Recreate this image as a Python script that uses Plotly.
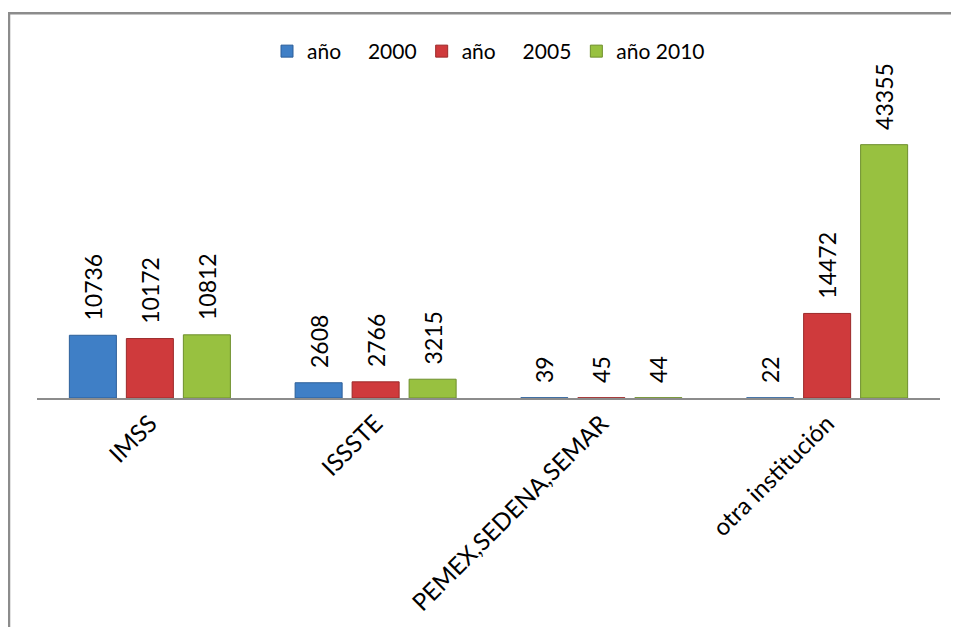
import plotly.graph_objects as go

categories = ["IMSS", "ISSSTE", "PEMEX,SEDENA,SEMAR", "otra institución"]
series_names = ["año\u00a0\u00a0\u00a0\u00a0\u00a02000",
                "año\u00a0\u00a0\u00a0\u00a0\u00a02005",
                "año 2010"]
values_2000 = [10736, 2608, 39, 22]
values_2005 = [10172, 2766, 45, 14472]
values_2010 = [10812, 3215, 44, 43355]

fill_colors = ["#3f7fc6", "#cf3a3c", "#98c140"]
edge_colors = ["#2d5f99", "#9c2a2a", "#6e8f2c"]

fig = go.Figure()
for name, vals, fc, ec in zip(series_names, [values_2000, values_2005, values_2010],
                              fill_colors, edge_colors):
    fig.add_trace(go.Bar(
        name=name,
        x=categories,
        y=vals,
        text=["\u00a0\u00a0" + str(v) for v in vals],
        textposition="outside",
        textangle=-90,
        constraintext="none",
        cliponaxis=False,
        textfont=dict(family="Lato", size=23, color="#000000"),
        marker=dict(color=fc, line=dict(color=ec, width=1)),
    ))

# figure is placed 8px in from the page edge by the browser's body margin
W, H = 943, 619
plot_top = 92
plot_bottom = 393
plot_h = plot_bottom - plot_top
left, right_px = 29, 932
plot_w = right_px - left

def py(y_px):
    return (plot_bottom - y_px) / plot_h

def px(x_px):
    return (x_px - left) / plot_w

fig.update_layout(
    width=W, height=H,
    margin=dict(l=left, r=W - right_px, t=plot_top, b=H - plot_bottom),
    paper_bgcolor="white", plot_bgcolor="white",
    barmode="group", bargap=0.2425, bargroupgap=0.175,
    font=dict(family="Lato", color="#000000"),
    showlegend=True,
    legend=dict(orientation="h", x=0.5, xanchor="center", y=py(43), yanchor="middle",
                font=dict(family="Lato", size=21, color="#000000"),
                bgcolor="rgba(0,0,0,0)", traceorder="normal"),
    xaxis=dict(showline=True, linecolor="#8c8c8c", linewidth=2, ticks="",
               tickangle=-45, tickfont=dict(family="Lato", size=24, color="#000000"),
               showgrid=False, zeroline=False),
    yaxis=dict(range=[0, 51000], visible=False, showgrid=False, zeroline=False),
    shapes=[dict(type="rect", xref="paper", yref="paper",
                 x0=px(1), x1=px(1200), y0=py(900), y1=py(4.5),
                 line=dict(color="#8c8c8c", width=2.5), fillcolor="rgba(0,0,0,0)",
                 layer="below")],
)

fig.write_html("out.html")
